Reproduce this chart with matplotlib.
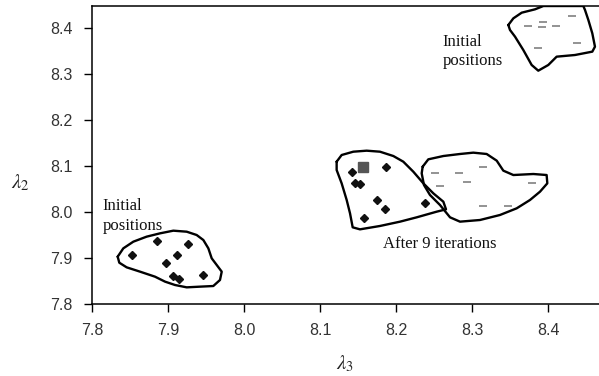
import matplotlib
matplotlib.use("Agg")
import matplotlib.pyplot as plt
import numpy as np

plt.rcParams['mathtext.fontset'] = 'stix'

# ---- data (lambda3, lambda2) ----
init_left_x = [7.853, 7.886, 7.926, 7.912, 7.897, 7.907, 7.915, 7.946]
init_left_y = [7.907, 7.937, 7.930, 7.907, 7.890, 7.861, 7.854, 7.863]

iter9_x = [8.142, 8.187, 8.146, 8.153, 8.175, 8.185, 8.238, 8.158]
iter9_y = [8.087, 8.098, 8.062, 8.061, 8.026, 8.007, 8.020, 7.986]
best_x = [8.156]
best_y = [8.098]

init_right_x = [8.374, 8.393, 8.392, 8.410, 8.432, 8.438, 8.387]
init_right_y = [8.405, 8.413, 8.403, 8.405, 8.426, 8.368, 8.356]

iter9b_x = [8.251, 8.283, 8.314, 8.293, 8.258, 8.379, 8.314, 8.348]
iter9b_y = [8.084, 8.085, 8.097, 8.065, 8.057, 8.064, 8.012, 8.012]

# hand-drawn cluster outlines (boundary points)
outline_left_x = [7.8338, 7.8412, 7.8544, 7.8719, 7.8895, 7.9070, 7.9246, 7.9377, 7.9465, 7.9531,
                  7.9575, 7.9641, 7.9707, 7.9684, 7.9596, 7.9421, 7.9246, 7.9092, 7.8961, 7.8829,
                  7.8632, 7.8456, 7.8359]
outline_left_y = [7.9029, 7.9210, 7.9355, 7.9464, 7.9536, 7.9594, 7.9572, 7.9500, 7.9391, 7.9210,
                  7.8993, 7.8848, 7.8703, 7.8522, 7.8391, 7.8377, 7.8362, 7.8413, 7.8486, 7.8594,
                  7.8703, 7.8797, 7.8898]

outline_mid_x = [8.1219, 8.1285, 8.1438, 8.1614, 8.1789, 8.1965, 8.2096, 8.2228, 8.2360, 8.2491,
                 8.2623, 8.2658, 8.2535, 8.2272, 8.2053, 8.1789, 8.1526, 8.1430, 8.1395, 8.1351,
                 8.1285, 8.1219]
outline_mid_y = [8.1094, 8.1239, 8.1311, 8.1333, 8.1311, 8.1217, 8.1094, 8.0876, 8.0623, 8.0406,
                 8.0224, 8.0058, 8.0007, 7.9884, 7.9790, 7.9696, 7.9623, 7.9667, 7.9971, 8.0261,
                 8.0623, 8.0913]

outline_midr_x = [8.2351, 8.2425, 8.2623, 8.2842, 8.3017, 8.3193, 8.3325, 8.3412, 8.3544, 8.3807,
                  8.3982, 8.3991, 8.3895, 8.3763, 8.3588, 8.3368, 8.3105, 8.2842, 8.2711, 8.2579,
                  8.2447, 8.2368, 8.2338]
outline_midr_y = [8.0985, 8.1145, 8.1217, 8.1261, 8.1290, 8.1261, 8.1116, 8.0899, 8.0804, 8.0826,
                  8.0804, 8.0623, 8.0442, 8.0261, 8.0080, 7.9935, 7.9826, 7.9790, 7.9884, 8.0152,
                  8.0370, 8.0587, 8.0841]

outline_top_x = [8.3478, 8.3544, 8.3654, 8.3829, 8.3939, 8.4465, 8.4487, 8.4531, 8.4583, 8.4618,
                 8.4583, 8.4355, 8.4114, 8.4004, 8.3872, 8.3785, 8.3675, 8.3566, 8.3500]
outline_top_y = [8.4065, 8.4210, 8.4333, 8.4406, 8.4478, 8.4478, 8.4391, 8.4174, 8.3884, 8.3594,
                 8.3486, 8.3413, 8.3377, 8.3196, 8.3072, 8.3196, 8.3522, 8.3812, 8.3957]

xticks = [7.8, 7.9, 8.0, 8.1, 8.2, 8.3, 8.4]
yticks = [7.8, 7.9, 8.0, 8.1, 8.2, 8.3, 8.4]

fig = plt.figure(figsize=(5.99, 3.76), dpi=100)
ax = fig.add_axes([92/599, 72/376, 507/599, 298/376])
ax.set_xlim(7.8, 7.8 + 507/760)
ax.set_ylim(7.8, 7.8 + 298/460)

for ox, oy in [(outline_left_x, outline_left_y), (outline_mid_x, outline_mid_y),
               (outline_midr_x, outline_midr_y), (outline_top_x, outline_top_y)]:
    ax.plot(list(ox) + [ox[0]], list(oy) + [oy[0]], color='black', lw=1.7,
            solid_joinstyle='round', solid_capstyle='round', zorder=2)

ax.plot(init_left_x, init_left_y, 'D', color='#111111', ms=4.2, ls='none', zorder=3)
ax.plot(iter9_x, iter9_y, 'D', color='#111111', ms=4.2, ls='none', zorder=3)
ax.plot(best_x, best_y, 's', color='#555555', ms=6.5, ls='none', zorder=3)
ax.plot(init_right_x, init_right_y, '_', color='#808080', ms=6, mew=1.2, ls='none', zorder=3)
ax.plot(iter9b_x, iter9b_y, '_', color='#808080', ms=6, mew=1.2, ls='none', zorder=3)

tfont = dict(family='Liberation Serif', fontsize=12, color='#111111', va='baseline', ha='left')
ax.text(7.8141, 8.0043, 'Initial', **tfont)
ax.text(7.8141, 7.9609, 'positions', **tfont)
ax.text(8.2614, 8.3609, 'Initial', **tfont)
ax.text(8.2614, 8.3196, 'positions', **tfont)
ax.text(8.1825, 7.9211, 'After 9 iterations', **tfont)

ax.set_xticks(xticks)
ax.set_yticks(yticks)
ax.set_xticklabels([f'{v:.1f}' for v in xticks])
ax.set_yticklabels([f'{v:.1f}' for v in yticks])
ax.tick_params(direction='out', length=6, width=1, colors='black', labelcolor='#333333',
               labelsize=11.5)
ax.tick_params(axis='x', pad=8)
ax.tick_params(axis='y', pad=8)
for lab in ax.get_xticklabels() + ax.get_yticklabels():
    lab.set_family('Liberation Sans')

ax.spines['right'].set_visible(False)
for s in ['left', 'bottom', 'top']:
    ax.spines[s].set_linewidth(1.1)

fig.text(20/599, 1 - 183/376, r'$\lambda_2$', fontsize=15, ha='center', va='center', color='#222222')
fig.text(345/599, 1 - 364/376, r'$\lambda_3$', fontsize=15, ha='center', va='center', color='#222222')

fig.savefig('out.png', dpi=100)
